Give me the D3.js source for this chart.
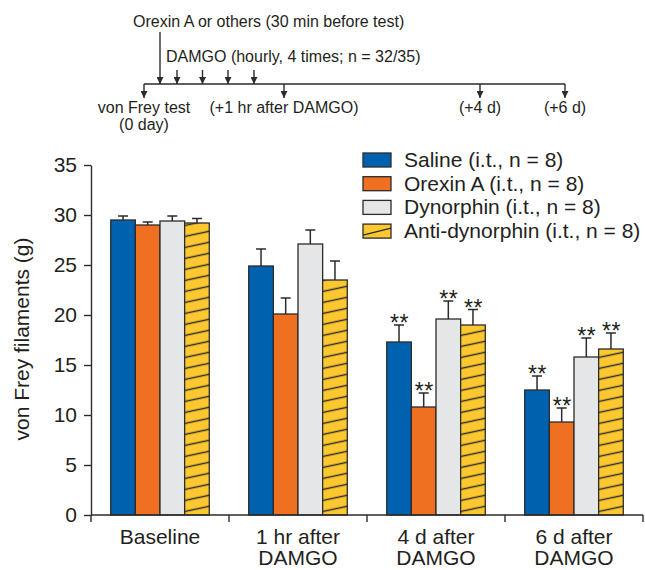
<!DOCTYPE html>
<html>
<head>
<meta charset="utf-8">
<script src="https://cdn.jsdelivr.net/npm/d3@7"></script>
<style>
  html, body { margin: 0; padding: 0; background: #fff; }
  svg text { font-family: "Liberation Sans", Arial, Helvetica, sans-serif; fill: #231f20; }
</style>
</head>
<body>
<div id="chart"></div>
<script>
// ---- data ----
const groups = ['Baseline', '1 hr after DAMGO', '4 d after DAMGO', '6 d after DAMGO'];
const groupLabels = [['Baseline'], ['1 hr after', 'DAMGO'], ['4 d after', 'DAMGO'], ['6 d after', 'DAMGO']];
const series = ['Saline (i.t., n = 8)', 'Orexin A (i.t., n = 8)', 'Dynorphin (i.t., n = 8)', 'Anti-dynorphin (i.t., n = 8)'];

const salineMean = [29.5, 24.9, 17.3, 12.5];
const salineSem = [0.4, 1.7, 1.7, 1.4];
const orexinMean = [29.0, 20.1, 10.8, 9.3];
const orexinSem = [0.3, 1.6, 1.4, 1.4];
const dynorphinMean = [29.4, 27.1, 19.6, 15.8];
const dynorphinSem = [0.5, 1.4, 1.8, 1.9];
const antiDynMean = [29.2, 23.5, 19.0, 16.6];
const antiDynSem = [0.45, 1.9, 1.55, 1.6];
// significance marks per group (same for all four series)
const stars = ['', '', '**', '**'];

const yTicks = [0, 5, 10, 15, 20, 25, 30, 35];

const seriesColors = ['#0062ae', '#f07022', '#e5e6e8', '#fdc82f'];

const meansBySeries = [salineMean, orexinMean, dynorphinMean, antiDynMean];
const semsBySeries = [salineSem, orexinSem, dynorphinSem, antiDynSem];

const rows = [];
groups.forEach((g, gi) => {
  series.forEach((s, si) => {
    rows.push({ group: g, gi, series: s, si, mean: meansBySeries[si][gi], sem: semsBySeries[si][gi], star: stars[gi] });
  });
});

// ---- layout ----
const W = 645, H = 570;
const plot = { left: 91, right: 643, top: 165, bottom: 515 };
const ink = '#2b2b2b';

const svg = d3.select('#chart').append('svg')
  .attr('width', W)
  .attr('height', H);

const defs = svg.append('defs');

defs.append('pattern')
  .attr('id', 'hatch')
  .attr('patternUnits', 'userSpaceOnUse')
  .attr('width', 10)
  .attr('height', 11)
  .attr('patternTransform', 'skewY(-12)')
  .call(p => {
    p.append('rect').attr('width', 10).attr('height', 11).attr('fill', seriesColors[3]);
    p.append('line')
      .attr('x1', 0).attr('x2', 10)
      .attr('y1', 5.5).attr('y2', 5.5)
      .attr('stroke', ink)
      .attr('stroke-width', 1.5);
  });

// arrowhead: drawn pointing along +x, rotated to the line direction
defs.append('marker')
  .attr('id', 'arrow')
  .attr('viewBox', '0 0 10 10')
  .attr('refX', 10)
  .attr('refY', 5)
  .attr('markerUnits', 'userSpaceOnUse')
  .attr('markerWidth', 7)
  .attr('markerHeight', 7)
  .attr('orient', 'auto')
  .append('path')
  .attr('d', 'M0,0 L10,5 L0,10 Z')
  .attr('fill', ink);

const fillFor = si => si === 3 ? 'url(#hatch)' : seriesColors[si];

// ---- scales ----
const x0 = d3.scaleBand()
  .domain(groups)
  .range([plot.left, plot.right])
  .paddingInner(0)
  .paddingOuter(0);

const x1 = d3.scaleBand()
  .domain(series)
  .range([0, x0.bandwidth()])
  .paddingInner(0)
  .paddingOuter(0.8);

const y = d3.scaleLinear()
  .domain([0, 35])
  .range([plot.bottom, plot.top]);

// ---- timeline schematic (top) ----
const tl = svg.append('g').attr('class', 'timeline');
const tlY = 84;
const tlStart = 144, tlEnd = 565;
const testPoints = [
  { x: 144, lines: ['von Frey test', '(0 day)'] },
  { x: 284, lines: ['(+1 hr after DAMGO)'] },
  { x: 480, lines: ['(+4 d)'] },
  { x: 565, lines: ['(+6 d)'] }
];
const damgoDoses = [177, 202.5, 228, 254];

tl.append('line')
  .attr('x1', tlStart).attr('x2', tlEnd)
  .attr('y1', tlY).attr('y2', tlY)
  .attr('stroke', ink).attr('stroke-width', 1.4);

tl.selectAll('line.test')
  .data(testPoints)
  .enter().append('line')
  .attr('class', 'test')
  .attr('x1', d => d.x).attr('x2', d => d.x)
  .attr('y1', tlY).attr('y2', tlY + 14)
  .attr('stroke', ink).attr('stroke-width', 1.4)
  .attr('marker-end', 'url(#arrow)');

tl.selectAll('text.test')
  .data(testPoints)
  .enter().append('text')
  .attr('class', 'test')
  .attr('text-anchor', 'middle')
  .style('font-size', '16px')
  .each(function (d) {
    d3.select(this).selectAll('tspan')
      .data(d.lines)
      .enter().append('tspan')
      .attr('x', d.x)
      .attr('y', (_, i) => 113 + i * 17)
      .text(t => t);
  });

// orexin pretreatment arrow
tl.append('line')
  .attr('x1', 160).attr('x2', 160)
  .attr('y1', 32).attr('y2', tlY)
  .attr('stroke', ink).attr('stroke-width', 1.4)
  .attr('marker-end', 'url(#arrow)');

tl.selectAll('line.damgo')
  .data(damgoDoses)
  .enter().append('line')
  .attr('class', 'damgo')
  .attr('x1', d => d).attr('x2', d => d)
  .attr('y1', 70).attr('y2', tlY)
  .attr('stroke', ink).attr('stroke-width', 1.4)
  .attr('marker-end', 'url(#arrow)');

tl.append('text')
  .attr('x', 133).attr('y', 27)
  .style('font-size', '16px')
  .text('Orexin A or others (30 min before test)');

tl.append('text')
  .attr('x', 166).attr('y', 62)
  .style('font-size', '16px')
  .text('DAMGO (hourly, 4 times; n = 32/35)');

// ---- bars ----
const barG = svg.append('g').attr('class', 'bars');

const bar = barG.selectAll('g.bar')
  .data(rows)
  .enter().append('g')
  .attr('class', 'bar')
  .attr('transform', d => `translate(${x0(d.group) + x1(d.series)},0)`);

// error bars (upper only), drawn first so the bar outline sits on top
bar.append('line')
  .attr('x1', x1.bandwidth() / 2).attr('x2', x1.bandwidth() / 2)
  .attr('y1', d => y(d.mean)).attr('y2', d => y(d.mean + d.sem))
  .attr('stroke', ink).attr('stroke-width', 1.5);

bar.append('line')
  .attr('x1', x1.bandwidth() / 2 - 5).attr('x2', x1.bandwidth() / 2 + 5)
  .attr('y1', d => y(d.mean + d.sem)).attr('y2', d => y(d.mean + d.sem))
  .attr('stroke', ink).attr('stroke-width', 1.5);

bar.append('rect')
  .attr('x', 0)
  .attr('y', d => y(d.mean))
  .attr('width', x1.bandwidth())
  .attr('height', d => y(0) - y(d.mean))
  .attr('fill', d => fillFor(d.si))
  .attr('stroke', ink)
  .attr('stroke-width', 1.3);

bar.filter(d => d.star)
  .append('text')
  .attr('x', x1.bandwidth() / 2 + 0.5)
  .attr('y', d => y(d.mean + d.sem) + 6)
  .attr('text-anchor', 'middle')
  .style('font-size', '23px')
  .style('letter-spacing', '0.5px')
  .text(d => d.star);

// ---- axes ----
const yAxis = d3.axisLeft(y)
  .tickValues(yTicks)
  .tickSize(7)
  .tickSizeOuter(0)
  .tickPadding(7);

svg.append('g')
  .attr('transform', `translate(${plot.left},0)`)
  .call(yAxis)
  .call(g => g.selectAll('.domain, .tick line').attr('stroke', ink).attr('stroke-width', 1.4))
  .call(g => g.selectAll('.tick text')
    .style('font-family', '"Liberation Sans", Arial, sans-serif')
    .style('font-size', '21px')
    .attr('fill', '#231f20'));

const xAxisG = svg.append('g').attr('class', 'x-axis');
const boundaries = groups.map(g => x0(g)).concat([x0.range()[1]]);

xAxisG.append('line')
  .attr('x1', plot.left).attr('x2', plot.right)
  .attr('y1', plot.bottom).attr('y2', plot.bottom)
  .attr('stroke', ink).attr('stroke-width', 1.4);

xAxisG.selectAll('line.tick')
  .data(boundaries)
  .enter().append('line')
  .attr('class', 'tick')
  .attr('x1', d => d).attr('x2', d => d)
  .attr('y1', plot.bottom).attr('y2', plot.bottom + 7)
  .attr('stroke', ink).attr('stroke-width', 1.4);

xAxisG.selectAll('text')
  .data(groups)
  .enter().append('text')
  .attr('text-anchor', 'middle')
  .style('font-size', '21px')
  .each(function (g, i) {
    d3.select(this).selectAll('tspan')
      .data(groupLabels[i])
      .enter().append('tspan')
      .attr('x', x0(g) + x0.bandwidth() / 2)
      .attr('y', (_, j) => 544 + j * 21)
      .text(t => t);
  });

svg.append('text')
  .attr('transform', `translate(29,${(plot.top + plot.bottom) / 2 - 1}) rotate(-90)`)
  .attr('text-anchor', 'middle')
  .style('font-size', '21px')
  .text('von Frey filaments (g)');

// ---- legend ----
const legend = svg.append('g')
  .attr('class', 'legend')
  .attr('transform', 'translate(363,153)');

const item = legend.selectAll('g')
  .data(series)
  .enter().append('g')
  .attr('transform', (_, i) => `translate(0,${i * 23.7})`);

item.append('rect')
  .attr('width', 28)
  .attr('height', 14)
  .attr('fill', (_, i) => seriesColors[i])
  .attr('stroke', ink)
  .attr('stroke-width', 1.3);

item.filter((_, i) => i === 3)
  .append('line')
  .attr('x1', 0).attr('y1', 11)
  .attr('x2', 28).attr('y2', 4)
  .attr('stroke', ink)
  .attr('stroke-width', 1.3);

item.append('text')
  .attr('x', 41)
  .attr('y', 14)
  .style('font-size', '21px')
  .text(d => d);
</script>
</body>
</html>
